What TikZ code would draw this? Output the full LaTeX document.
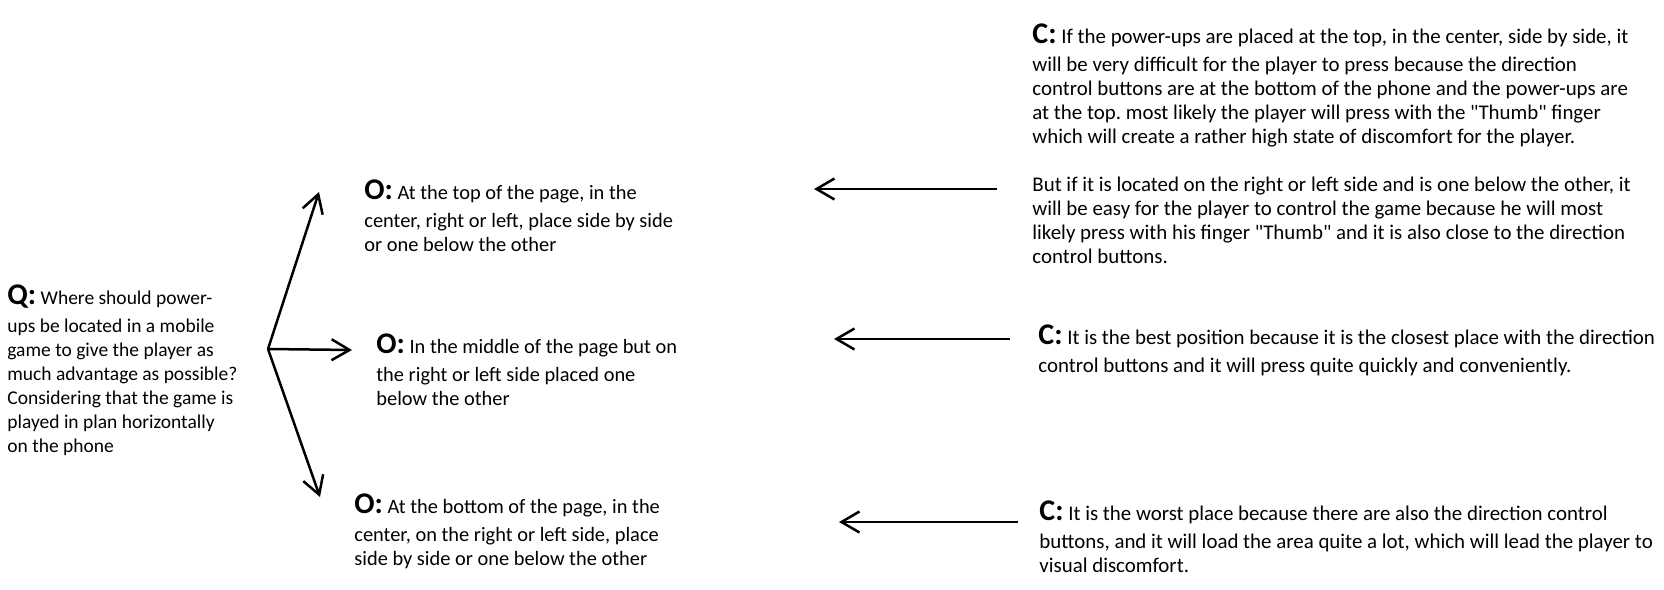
\documentclass[tikz,border=0pt]{standalone}
\usepackage{fontspec}
\setmainfont{Carlito}
\usepackage{tikz}
\usetikzlibrary{arrows.meta}

\newcommand{\tagletter}[1]{{\fontsize{15}{12}\selectfont\bfseries #1:}}

\begin{document}
\frenchspacing
\begin{tikzpicture}[
  x=0.5pt,y=-0.5pt,>={Straight Barb[length=9pt,width=10.5pt]},
  txt/.style={anchor=base west,align=left,inner sep=0pt},
  qtxt/.style={txt,font=\fontsize{9.75}{12}\selectfont},
  otxt/.style={txt,font=\fontsize{10.2}{12}\selectfont},
  ctxt/.style={txt,font=\fontsize{10.45}{12}\selectfont},
  link/.style={->,line width=1.25pt}
]
  \useasboundingbox (0,0) rectangle (1664,589);

  % question (placed by its last baseline)
  \node[qtxt] (q) at (7,452)
    {\tagletter{Q} Where should power-\\[2pt]
     ups be located in a mobile\\
     game to give the player as\\
     much advantage as possible?\\
     Considering that the game is\\
     played in plan horizontally\\
     on the phone};

  % options
  \node[otxt] (o1) at (364,251)
    {\tagletter{O} At the top of the page, in the\\[2pt]
     center, right or left, place side by side\\
     or one below the other};
  \node[otxt] (o2) at (376,405)
    {\tagletter{O} In the middle of the page but on\\[2pt]
     the right or left side placed one\\
     below the other};
  \node[otxt] (o3) at (354,565)
    {\tagletter{O} At the bottom of the page, in the\\[2pt]
     center, on the right or left side, place\\
     side by side or one below the other};

  % comments
  \node[ctxt] (c1) at (1032,263)
    {\tagletter{C} If the power-ups are placed at the top, in the center, side by side, it\\[2pt]
     will be very difficult for the player to press because the direction\\
     control buttons are at the bottom of the phone and the power-ups are\\
     at the top. most likely the player will press with the \textquotedbl Thumb\textquotedbl{} finger\\
     which will create a rather high state of discomfort for the player.\\[12pt]
     But if it is located on the right or left side and is one below the other, it\\
     will be easy for the player to control the game because he will most\\
     likely press with his finger \textquotedbl Thumb\textquotedbl{} and it is also close to the direction\\
     control buttons.};
  \node[ctxt] (c2) at (1038,372)
    {\tagletter{C} It is the best position because it is the closest place with the direction\\[2pt]
     control buttons and it will press quite quickly and conveniently.};
  \node[ctxt] (c3) at (1039,572)
    {\tagletter{C} It is the worst place because there are also the direction control\\[2pt]
     buttons, and it will load the area quite a lot, which will lead the player to\\
     visual discomfort.};

  % arrow ends
  \coordinate (hub) at (268,349);
  \coordinate (o1in) at (319,192);
  \coordinate (o2in) at (352,350);
  \coordinate (o3in) at (320,497);
  \coordinate (c1out) at (997,189);
  \coordinate (c1in) at (814,189);
  \coordinate (c2out) at (1010,339);
  \coordinate (c2in) at (834,339);
  \coordinate (c3out) at (1018,522);
  \coordinate (c3in) at (839,522);

  \draw[link] (hub) -- (o1in);
  \draw[link] (hub) -- (o2in);
  \draw[link] (hub) -- (o3in);
  \draw[link] (c1out) -- (c1in);
  \draw[link] (c2out) -- (c2in);
  \draw[link] (c3out) -- (c3in);
\end{tikzpicture}
\end{document}
